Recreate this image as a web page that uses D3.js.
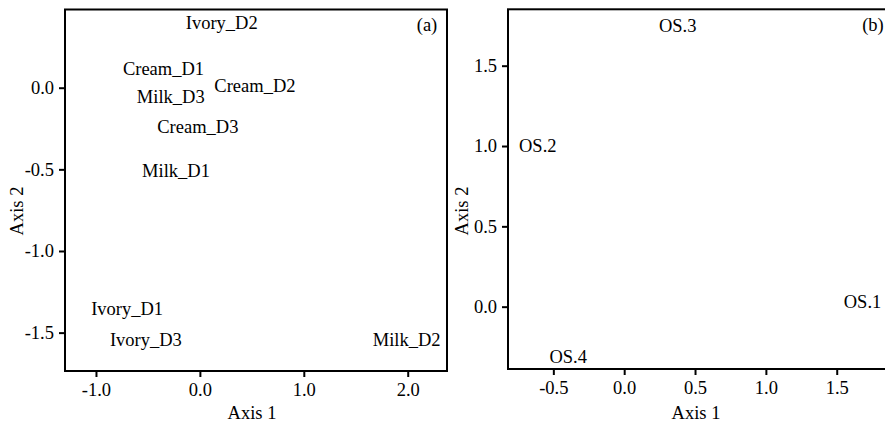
<!DOCTYPE html>
<html>
<head>
<meta charset="utf-8">
<script src="https://cdnjs.cloudflare.com/ajax/libs/d3/7.8.5/d3.min.js"></script>
<style>
  body { margin: 0; background: #fff; }
  text { font-family: "Liberation Serif", "Times New Roman", serif; fill: #000; }
</style>
</head>
<body>
<script>
    // panel (a): samples
    var samplesA = ["Ivory_D2", "Cream_D1", "Cream_D2", "Milk_D3", "Cream_D3", "Milk_D1", "Ivory_D1", "Ivory_D3", "Milk_D2"];
    var axis1A = [0.21, -0.35, 0.53, -0.28, -0.02, -0.23, -0.70, -0.52, 1.99];
    var axis2A = [0.40, 0.115, 0.012, -0.055, -0.235, -0.51, -1.355, -1.54, -1.54];
    var xTicksA = [-1, 0, 1, 2];
    var yTicksA = [0, -0.5, -1, -1.5];
    var xDomainA = [-1.298, 2.378];
    var yDomainA = [-1.735, 0.479];

    // panel (b): OS
    var samplesB = ["OS.3", "OS.2", "OS.1", "OS.4"];
    var axis1B = [0.378, -0.61, 1.682, -0.395];
    var axis2B = [1.751, 1.004, 0.031, -0.312];
    var xTicksB = [-0.5, 0, 0.5, 1, 1.5];
    var yTicksB = [0, 0.5, 1, 1.5];
    var xDomainB = [-0.82, 1.876];
    var yDomainB = [-0.388, 1.851];

    var w = 885, h = 425;
    var fs = 18.5;

    var svg = d3.select("body").append("svg")
        .attr("width", w)
        .attr("height", h);

    var fmt = d3.formatLocale({decimal: ".", thousands: ",", grouping: [3], currency: ["", ""], minus: "-"}).format(".1f");

    function panel(opt) {
        var x = d3.scaleLinear().domain(opt.xDomain).range([opt.left, opt.right]);
        var y = d3.scaleLinear().domain(opt.yDomain).range([opt.bottom, opt.top]);

        var xAxis = d3.axisBottom(x).tickValues(opt.xTicks).tickFormat(fmt)
            .tickSizeInner(6).tickSizeOuter(0).tickPadding(6);
        var yAxis = d3.axisLeft(y).tickValues(opt.yTicks).tickFormat(fmt)
            .tickSizeInner(6).tickSizeOuter(0).tickPadding(5);

        var gx = svg.append("g").attr("transform", "translate(0," + opt.bottom + ")").call(xAxis);
        var gy = svg.append("g").attr("transform", "translate(" + opt.left + ",0)").call(yAxis);

        [gx, gy].forEach(function (g) {
            g.select(".domain").remove();
            g.selectAll(".tick line").attr("stroke", "#000").attr("stroke-width", 2);
            g.selectAll(".tick text")
                .attr("font-size", fs)
                .attr("font-family", "Liberation Serif")
                .attr("fill", "#000");
        });

        // frame
        svg.append("rect")
            .attr("x", opt.left).attr("y", opt.top)
            .attr("width", opt.right - opt.left)
            .attr("height", opt.bottom - opt.top)
            .attr("fill", "none")
            .attr("stroke", "#000")
            .attr("stroke-width", 2);

        // site labels (text-only ordination plot)
        svg.append("g").selectAll("text")
            .data(opt.names)
            .enter().append("text")
            .attr("x", function (d, i) { return x(opt.ax1[i]); })
            .attr("y", function (d, i) { return y(opt.ax2[i]); })
            .attr("text-anchor", "middle")
            .attr("dy", "0.35em")
            .attr("font-size", fs)
            .text(function (d) { return d; });

        svg.append("text")
            .attr("x", opt.tagX).attr("y", 25)
            .attr("text-anchor", "middle")
            .attr("dy", "0.35em")
            .attr("font-size", fs)
            .text(opt.tag);

        svg.append("text")
            .attr("x", opt.xLabX).attr("y", 419)
            .attr("text-anchor", "middle")
            .attr("font-size", fs)
            .text("Axis 1");

        svg.append("text")
            .attr("transform", "translate(" + opt.yLabX + ",211) rotate(-90)")
            .attr("text-anchor", "middle")
            .attr("font-size", fs)
            .text("Axis 2");
    }

    panel({
        left: 65, right: 447, top: 9.5, bottom: 371,
        xDomain: xDomainA, yDomain: yDomainA, xTicks: xTicksA, yTicks: yTicksA,
        names: samplesA, ax1: axis1A, ax2: axis2A,
        tag: "(a)", tagX: 427, xLabX: 252, yLabX: 23
    });

    panel({
        left: 508, right: 890, top: 9.3, bottom: 369,
        xDomain: xDomainB, yDomain: yDomainB, xTicks: xTicksB, yTicks: yTicksB,
        names: samplesB, ax1: axis1B, ax2: axis2B,
        tag: "(b)", tagX: 873, xLabX: 696, yLabX: 468
    });
</script>
</body>
</html>
